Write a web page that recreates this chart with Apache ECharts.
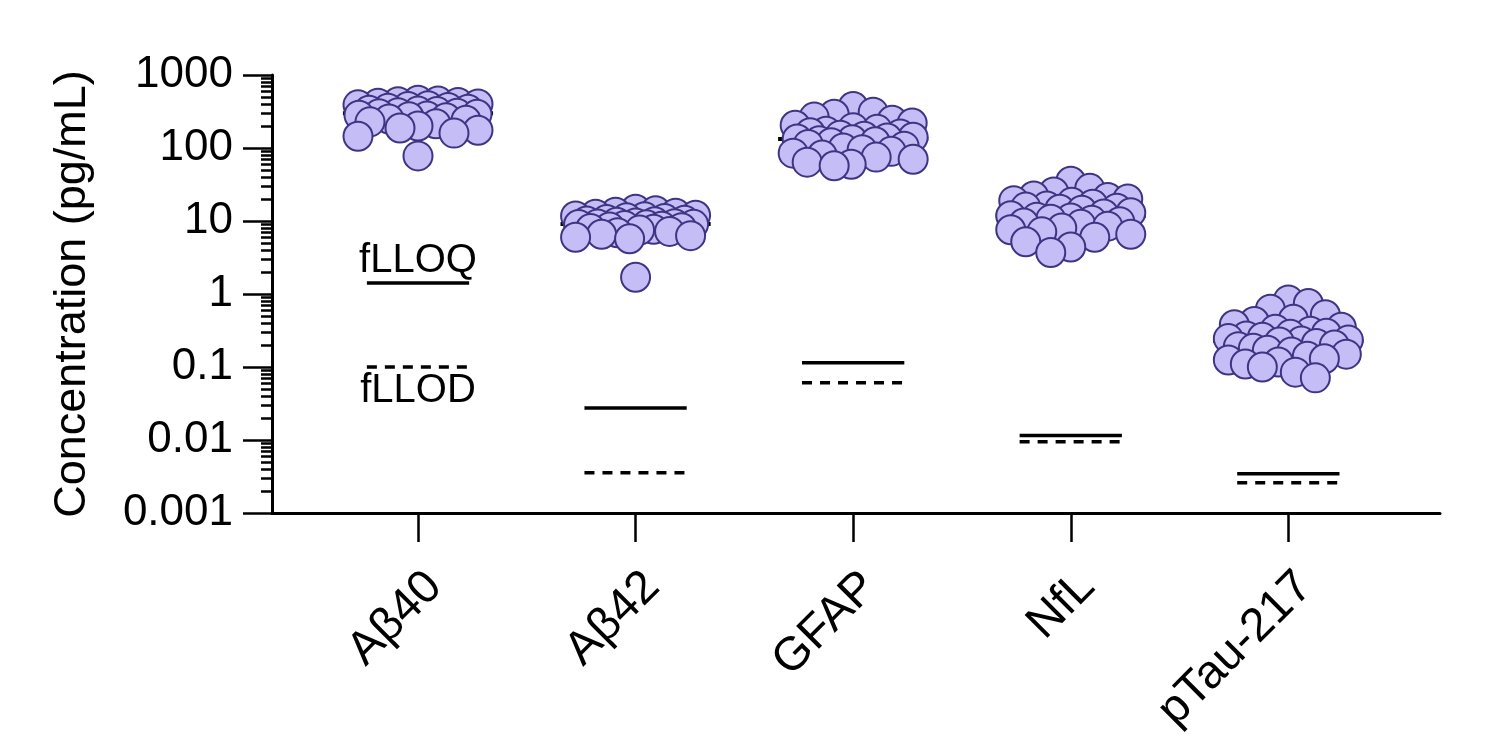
<!DOCTYPE html>
<html>
<head>
<meta charset="utf-8">
<title>Concentration</title>
<script src="https://cdn.jsdelivr.net/npm/echarts@6.0.0/dist/echarts.min.js"></script>
<style>
  html, body { margin: 0; padding: 0; background: #fff; }
  #chart { width: 1500px; height: 738px; }
</style>
</head>
<body>
<div id="chart"></div>
<script>
// categories and values (pg/mL)
var CATEGORIES = ['Aβ40', 'Aβ42', 'GFAP', 'NfL', 'pTau-217'];

var AB40 = [450, 440, 430, 420, 410, 400, 390, 380, 370, 360, 350, 340, 330, 320, 315, 305, 300,
    295, 290, 282, 275, 268, 260, 250, 240, 228, 215, 200, 188, 175, 160, 145, 78];
var AB42 = [14.5, 13.8, 13.2, 12.8, 12.4, 12.0, 11.7, 11.4, 11.1, 10.8, 10.5, 10.2, 10.0, 9.8, 9.6, 9.4, 9.2, 9.1,
    9.0, 8.95, 8.9, 8.7, 8.5, 8.3, 8.1, 7.9, 7.7, 7.5, 7.2, 6.9, 6.6, 6.3, 6.0, 5.7, 1.7];
var GFAP = [370, 310, 290, 265, 240, 220, 205, 190, 180, 170, 162, 155, 150, 145, 140, 137, 133,
    130, 126, 122, 118, 112, 106, 100, 95, 90, 85, 80, 75, 70, 64, 60, 57];
var NFL = [35, 28, 25, 22, 21, 20, 19, 18, 17, 16, 15.5, 15, 14.5, 14, 13, 12.5, 11.8,
    11.3, 11, 10.6, 10.2, 9.8, 9.4, 9, 8.5, 8, 7.6, 7.1, 6.6, 6, 5.2, 4.4, 3.7];
var PTAU217 = [0.83, 0.74, 0.62, 0.52, 0.45, 0.42, 0.38, 0.35, 0.33, 0.31, 0.29, 0.28, 0.265, 0.255, 0.245, 0.235, 0.227,
    0.22, 0.21, 0.2, 0.19, 0.18, 0.17, 0.16, 0.15, 0.14, 0.13, 0.125, 0.117, 0.11, 0.1, 0.085, 0.071];

// functional lower limits per assay
var LLOQ = [1.41, 0.0275, 0.1146, 0.0115, 0.00345];
var LLOD = [0.1, 0.00355, 0.0608, 0.0095, 0.0026];

var Y_TICKS = [0.001, 0.01, 0.1, 1, 10, 100, 1000];
var X_TICKS = [0, 1, 2, 3, 4];

var GROUPS = [AB40, AB42, GFAP, NFL, PTAU217];

// layout
var FONT = '"Liberation Sans", Arial, Helvetica, sans-serif';
var GRID = { left: 272, top: 75, right: 60, bottom: 225 };
var X_MIN = -0.671, X_MAX = 4.697;
var PX_X = (1500 - GRID.left - GRID.right) / (X_MAX - X_MIN);
var PX_DEC = (738 - GRID.top - GRID.bottom) / 6;
var DOT = 29;

function median(arr) {
    var s = arr.slice().sort(function (a, b) { return a - b; });
    var m = Math.floor(s.length / 2);
    return s.length % 2 ? s[m] : (s[m - 1] + s[m]) / 2;
}

// simple swarm: put each point as close to the centre as it can go,
// overlapping when the row is already full
function swarm(values, minDist, maxOff) {
    var order = values.map(function (v, i) { return i; })
        .sort(function (a, b) { return values[b] - values[a]; });
    var offs = [0];
    for (var d = 1; d <= maxOff; d++) { offs.push(d, -d); }
    var placed = [];
    var res = new Array(values.length);
    order.forEach(function (i) {
        var y = -Math.log10(values[i]) * PX_DEC;
        var best = 0, bestD = -1;
        for (var k = 0; k < offs.length; k++) {
            var md = Infinity;
            for (var j = 0; j < placed.length; j++) {
                var dx = placed[j][0] - offs[k], dy = placed[j][1] - y;
                md = Math.min(md, Math.sqrt(dx * dx + dy * dy));
            }
            if (md >= minDist) { best = offs[k]; bestD = md; break; }
            if (md > bestD) { bestD = md; best = offs[k]; }
        }
        placed.push([best, y]);
        res[i] = best / PX_X;
    });
    return res;
}

function segmentSeries(values, halfWidth, width, dash, z) {
    return {
        type: 'custom',
        z: z,
        silent: true,
        data: values.map(function (v, i) { return [i, v]; }),
        renderItem: function (params, api) {
            var a = api.coord([api.value(0) - halfWidth, api.value(1)]);
            var b = api.coord([api.value(0) + halfWidth, api.value(1)]);
            return {
                type: 'line',
                shape: { x1: a[0], y1: a[1], x2: b[0], y2: b[1] },
                style: { stroke: '#000', lineWidth: width, lineDash: dash, lineCap: 'butt' }
            };
        }
    };
}

var series = [];
series.push(segmentSeries(GROUPS.map(median), 0.345, 4, null, 1));

GROUPS.forEach(function (vals, c) {
    var jit = swarm(vals, 20, 60);
    series.push({
        type: 'scatter',
        name: CATEGORIES[c],
        z: 2,
        symbol: 'circle',
        symbolSize: DOT,
        silent: true,
        itemStyle: { color: '#c4bdf6', borderColor: '#3d3583', borderWidth: 2, opacity: 1 },
        data: vals.map(function (v, i) { return [c + jit[i], v]; })
    });
});

series.push(segmentSeries(LLOQ, 0.235, 3.5, null, 3));
series.push(segmentSeries(LLOD, 0.235, 3.5, [10, 8], 3));

// fLLOQ / fLLOD captions next to the first pair of limit lines
series.push({
    type: 'custom',
    z: 3,
    silent: true,
    data: [[0, LLOQ[0], -22, 'fLLOQ'], [0, LLOD[0], 24, 'fLLOD']],
    dimensions: ['x', 'y', 'dy', 'txt'],
    renderItem: function (params, api) {
        var p = api.coord([api.value(0), api.value(1)]);
        return {
            type: 'text',
            x: p[0],
            y: p[1] + api.value(2),
            style: {
                text: api.value(3),
                fill: '#000',
                font: '40px ' + FONT,
                align: 'center',
                verticalAlign: 'middle'
            }
        };
    }
});

var minorTicks = [];
for (var e = -3; e < 3; e++) {
    for (var m = 2; m <= 9; m++) { minorTicks.push(+(m * Math.pow(10, e)).toPrecision(3)); }
}

var option = {
    animation: false,
    backgroundColor: '#fff',
    textStyle: { fontFamily: FONT },
    grid: GRID,
    xAxis: {
        type: 'value',
        min: X_MIN,
        max: X_MAX,
        splitLine: { show: false },
        axisLine: { show: true, onZero: false, lineStyle: { color: '#000', width: 3 } },
        axisTick: { show: true, customValues: X_TICKS, length: 29, lineStyle: { color: '#000', width: 2.5 } },
        axisLabel: {
            customValues: X_TICKS,
            formatter: function (v) { return CATEGORIES[Math.round(v)]; },
            rotate: 45,
            verticalAlign: 'top',
            margin: 50,
            fontSize: 47,
            color: '#000',
            fontFamily: FONT
        }
    },
    yAxis: [{
        type: 'log',
        logBase: 10,
        min: 0.001,
        max: 1000,
        position: 'left',
        name: 'Concentration (pg/mL)',
        nameLocation: 'middle',
        nameGap: 177,
        nameTextStyle: { fontSize: 45, color: '#000', fontFamily: FONT },
        splitLine: { show: false },
        axisLine: { show: true, onZero: false, lineStyle: { color: '#000', width: 3 } },
        axisTick: { show: true, customValues: Y_TICKS, length: 29, lineStyle: { color: '#000', width: 2.5 } },
        axisLabel: {
            customValues: Y_TICKS,
            formatter: function (v) { return String(parseFloat((+v).toPrecision(3))); },
            margin: 39,
            fontSize: 44,
            color: '#000',
            fontFamily: FONT
        }
    }, {
        // minor log ticks
        type: 'log',
        logBase: 10,
        min: 0.001,
        max: 1000,
        position: 'left',
        offset: 0,
        splitLine: { show: false },
        axisLine: { show: false, onZero: false },
        axisLabel: { show: false },
        axisTick: { show: true, customValues: minorTicks, length: 11, lineStyle: { color: '#000', width: 2.5 } }
    }],
    series: series
};

var chart = echarts.init(document.getElementById('chart'), null, { renderer: 'canvas' });
chart.setOption(option);
</script>
</body>
</html>
